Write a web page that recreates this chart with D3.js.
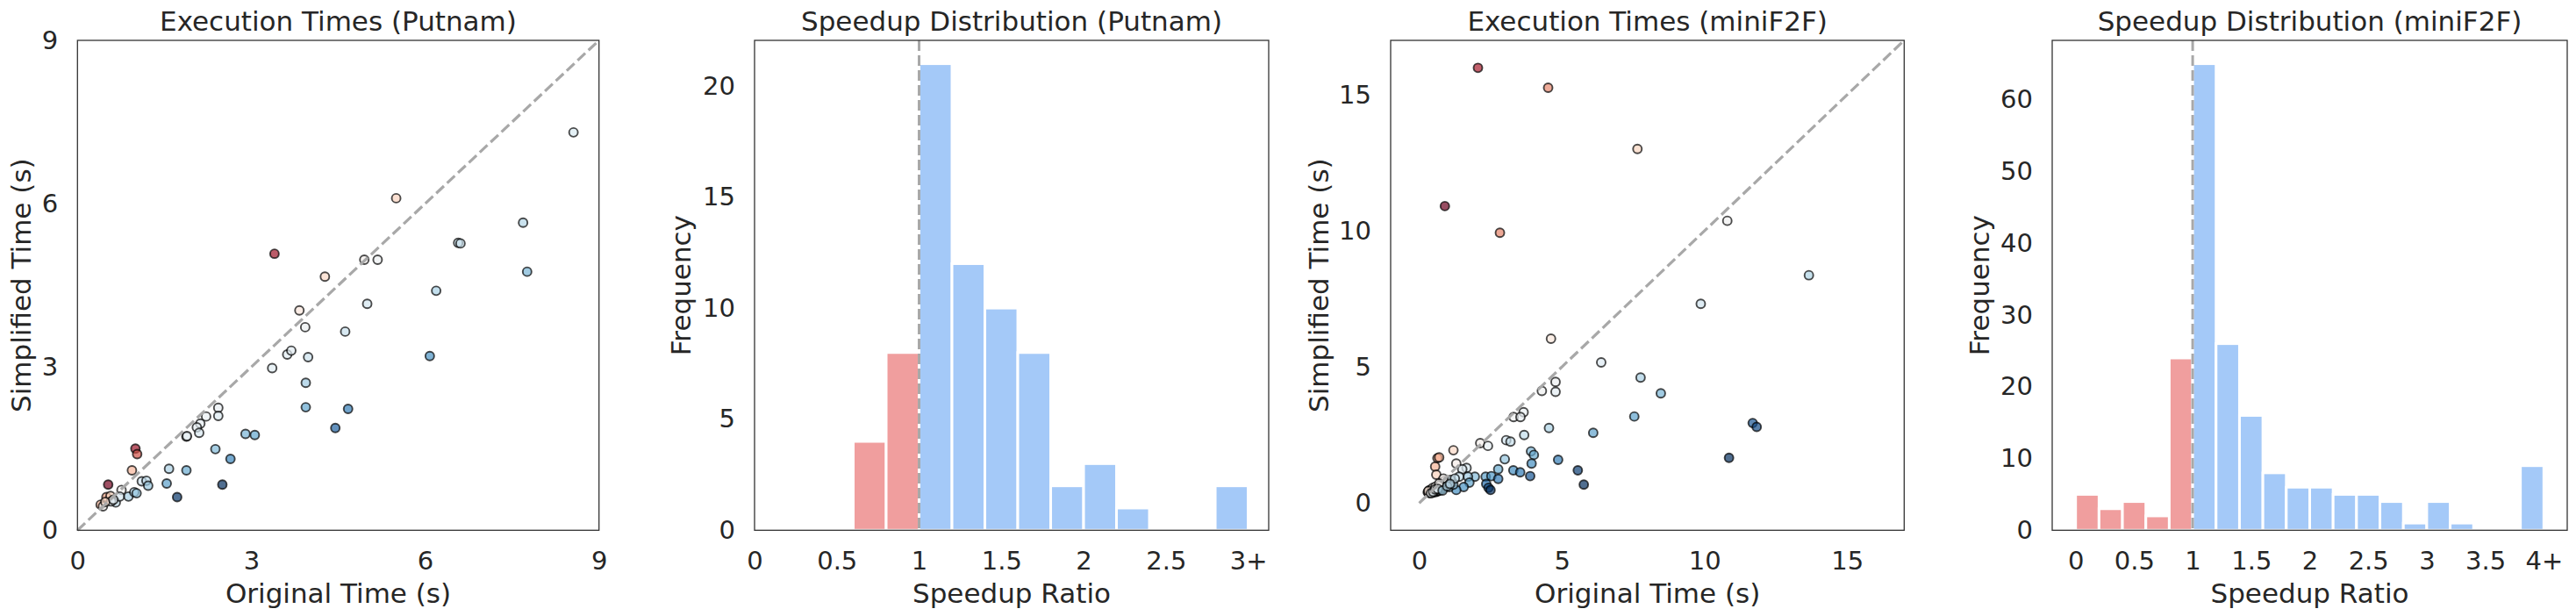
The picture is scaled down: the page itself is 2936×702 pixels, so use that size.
<!DOCTYPE html>
<html>
<head>
<meta charset="utf-8">
<title>Execution Times and Speedup</title>
<script src="https://cdn.jsdelivr.net/npm/d3@7"></script>
<style>
  body { margin: 0; background: #fff; }
</style>
</head>
<body>

<div id="container"></div>

<script>

// Putnam: original vs simplified execution time (s)
const putnamOriginal = [8.56, 5.50, 7.69, 6.57, 6.61, 7.76, 3.40, 4.95, 5.18, 4.27,
    6.19, 5.00, 3.83, 3.93, 4.62, 3.62, 3.69, 3.98, 6.08, 3.36,
    3.94, 2.43, 2.43, 2.22, 2.12, 2.06, 2.10, 1.88, 1.89, 3.94,
    4.67, 4.45, 2.90, 3.06, 2.38, 2.64, 1.58, 1.88, 1.54, 2.50,
    1.72, 1.00, 1.03, 0.94, 0.53, 0.50, 0.57, 0.40, 0.44, 0.76,
    0.66, 0.58, 0.73, 0.88, 0.98, 1.02, 1.11, 1.19, 1.22, 0.48,
    0.62];
const putnamSimplified = [7.31, 6.10, 5.65, 5.28, 5.27, 4.75, 5.08, 4.97, 4.97, 4.66,
    4.40, 4.16, 4.04, 3.73, 3.65, 3.23, 3.30, 3.18, 3.20, 2.98,
    2.71, 2.25, 2.10, 2.09, 1.96, 1.89, 1.79, 1.72, 1.73, 2.26,
    2.23, 1.88, 1.77, 1.75, 1.49, 1.31, 1.13, 1.10, 0.86, 0.84,
    0.61, 1.50, 1.40, 1.10, 0.84, 0.61, 0.63, 0.47, 0.44, 0.74,
    0.51, 0.53, 0.62, 0.62, 0.70, 0.68, 0.90, 0.91, 0.82, 0.52,
    0.56];

// miniF2F: original vs simplified execution time (s)
const minif2fOriginal = [2.06, 4.52, 7.65, 0.90, 2.83, 10.80, 13.66, 9.87, 4.62, 6.38,
    7.76, 8.47, 4.78, 4.78, 4.30, 3.66, 3.31, 3.55, 7.54, 4.55,
    3.68, 6.10, 11.69, 11.83, 3.05, 3.20, 2.14, 2.41, 1.20, 0.64,
    0.56, 0.60, 1.30, 1.66, 1.51, 3.00, 3.92, 4.02, 3.94, 4.87,
    2.77, 3.30, 3.54, 3.89, 5.56, 5.77, 10.86, 1.95, 2.33, 2.53,
    2.77, 2.35, 2.43, 2.50, 1.71, 1.76, 1.40, 1.56, 1.30, 1.15,
    0.89, 1.05, 0.84, 0.70, 0.30, 0.33, 0.36, 0.38, 0.40, 0.42,
    0.45, 0.47, 0.50, 0.52, 0.55, 0.58, 0.60, 0.63, 0.66, 0.70,
    0.72, 0.75, 0.78, 0.35, 0.44, 0.53, 0.62, 0.68, 0.80, 0.90,
    0.95, 1.00, 1.10, 1.20, 1.25, 0.48, 0.57, 0.74, 0.85, 0.70,
    0.32, 0.41, 0.49, 0.56, 0.65, 0.82, 0.98, 1.08];
const minif2fSimplified = [15.99, 15.26, 13.01, 10.91, 9.93, 10.37, 8.37, 7.32, 6.04, 5.17,
    4.61, 4.03, 4.45, 4.09, 4.12, 3.34, 3.16, 3.16, 3.18, 2.76,
    2.50, 2.58, 2.94, 2.80, 2.31, 2.26, 2.20, 2.10, 1.94, 1.65,
    1.34, 1.04, 1.45, 1.29, 1.24, 1.61, 1.90, 1.77, 1.45, 1.59,
    1.24, 1.20, 1.13, 0.99, 1.20, 0.68, 1.66, 0.97, 0.97, 0.99,
    0.89, 0.70, 0.56, 0.48, 0.97, 0.75, 0.97, 0.59, 0.48, 0.75,
    0.81, 0.59, 0.54, 1.68, 0.40, 0.38, 0.42, 0.37, 0.45, 0.40,
    0.43, 0.38, 0.46, 0.41, 0.44, 0.40, 0.48, 0.43, 0.47, 0.45,
    0.52, 0.48, 0.55, 0.47, 0.50, 0.52, 0.55, 0.58, 0.62, 0.66,
    0.72, 0.80, 0.85, 0.68, 0.90, 0.56, 0.60, 0.66, 0.90, 0.72,
    0.44, 0.36, 0.41, 0.50, 0.52, 0.46, 0.62, 0.70];

// Speedup histograms (bin edges + counts, last bin collects everything above)
const putnamBinEdges = [0.6, 0.8, 1.0, 1.2, 1.4, 1.6, 1.8, 2.0, 2.2, 2.4, 2.6, 2.8, 3.0];
const putnamCounts = [4, 8, 21, 12, 10, 8, 2, 3, 1, 0, 0, 2];
const minif2fBinEdges = [0, 0.2, 0.4, 0.6, 0.8, 1.0, 1.2, 1.4, 1.6, 1.8, 2.0,
    2.2, 2.4, 2.6, 2.8, 3.0, 3.2, 3.4, 3.6, 3.8, 4.0];
const minif2fCounts = [5, 3, 4, 2, 24, 65, 26, 16, 8, 6, 6, 5, 5, 4, 1, 4, 1, 0, 0, 9];

// Ticks
const putnamTimeTicks = [0, 3, 6, 9];
const minif2fTimeTicks = [0, 5, 10, 15];
const putnamRatioTicks = [0, 0.5, 1, 1.5, 2, 2.5, 3];
const putnamRatioLabels = ["0", "0.5", "1", "1.5", "2", "2.5", "3+"];
const putnamFreqTicks = [0, 5, 10, 15, 20];
const minif2fRatioTicks = [0, 0.5, 1, 1.5, 2, 2.5, 3, 3.5, 4];
const minif2fRatioLabels = ["0", "0.5", "1", "1.5", "2", "2.5", "3", "3.5", "4+"];
const minif2fFreqTicks = [0, 10, 20, 30, 40, 50, 60];

// Chart dimensions
const width = 2936;
const height = 702;
const marginTop = 46;
const plotHeight = 558.3;
const font = "'DejaVu Sans', sans-serif";
const titleSize = 31;
const labelSize = 31;
const tickSize = 29;
const textColor = "#262626";
const slowColor = "#f09e9e";
const fastColor = "#a4c9f8";
const refColor = "#a8a8a8";

const svg = d3.create("svg")
    .attr("width", width)
    .attr("height", height)
    .attr("font-family", font)
    .style("background", "#fff");

// Cadre d'un sous-graphique : titre, libellés
function frame(left, w, title, xLabel, yLabel, yLabelOffset) {
    const g = svg.append("g").attr("transform", `translate(${left},${marginTop})`);
    g.append("text")
        .attr("x", w / 2)
        .attr("y", 35 - marginTop)
        .attr("text-anchor", "middle")
        .attr("font-size", titleSize)
        .attr("fill", textColor)
        .text(title);
    g.append("text")
        .attr("x", w / 2)
        .attr("y", 687 - marginTop)
        .attr("text-anchor", "middle")
        .attr("font-size", labelSize)
        .attr("fill", textColor)
        .text(xLabel);
    g.append("text")
        .attr("transform", `translate(${-yLabelOffset},${plotHeight / 2}) rotate(-90)`)
        .attr("text-anchor", "middle")
        .attr("font-size", labelSize)
        .attr("fill", textColor)
        .text(yLabel);
    return g;
}

function axes(g, x, y, xTicks, xLabels, yTicks) {
    g.append("g")
        .attr("transform", `translate(0,${plotHeight})`)
        .call(d3.axisBottom(x)
            .tickValues(xTicks)
            .tickFormat(d => xLabels[xTicks.indexOf(d)])
            .tickSize(0)
            .tickPadding(24))
        .call(a => a.select(".domain").remove())
        .attr("font-size", tickSize)
        .attr("font-family", font)
        .style("color", textColor);
    g.append("g")
        .call(d3.axisLeft(y)
            .tickValues(yTicks)
            .tickFormat(d3.format("d"))
            .tickSize(0)
            .tickPadding(22))
        .call(a => a.select(".domain").remove())
        .attr("font-size", tickSize)
        .attr("font-family", font)
        .style("color", textColor);
}

function spines(g, w) {
    g.append("rect")
        .attr("width", w)
        .attr("height", plotHeight)
        .attr("fill", "none")
        .attr("stroke", "#333")
        .attr("stroke-width", 1.3);
}

function scatterPanel(left, w, title, orig, simp, domain, ticks, colorDomain, yLabelOffset) {
    const g = frame(left, w, title, "Original Time (s)", "Simplified Time (s)", yLabelOffset);
    const x = d3.scaleLinear().domain(domain).range([0, w]);
    const y = d3.scaleLinear().domain(domain).range([plotHeight, 0]);
    // couleur selon le ratio original / simplifié
    const color = d3.scaleDivergingLog()
        .domain(colorDomain)
        .interpolator(d3.interpolateRdBu)
        .clamp(true);

    axes(g, x, y, ticks, ticks.map(String), ticks);

    const points = orig.map((o, i) => ({o: o, s: simp[i]}));
    g.selectAll("circle")
        .data(points)
        .enter().append("circle")
        .attr("cx", d => x(d.o))
        .attr("cy", d => y(d.s))
        .attr("r", 5)
        .attr("fill", d => color(d.o / d.s))
        .attr("fill-opacity", 0.7)
        .attr("stroke", "#000")
        .attr("stroke-opacity", 0.7)
        .attr("stroke-width", 1.9);

    const top = domain[1];
    g.append("line")
        .attr("x1", x(0)).attr("y1", y(0))
        .attr("x2", x(top)).attr("y2", y(top))
        .attr("stroke", refColor)
        .attr("stroke-width", 3.2)
        .attr("stroke-dasharray", "12,5");

    spines(g, w);
}

function histPanel(left, w, title, edges, counts, xDomain, yDomain, xTicks, xLabels, yTicks, yLabelOffset) {
    const g = frame(left, w, title, "Speedup Ratio", "Frequency", yLabelOffset);
    const x = d3.scaleLinear().domain(xDomain).range([0, w]);
    const y = d3.scaleLinear().domain(yDomain).range([plotHeight, 0]);

    axes(g, x, y, xTicks, xLabels, yTicks);

    const bins = counts.map((n, i) => ({x0: edges[i], x1: edges[i + 1], n: n}))
        .filter(d => d.n > 0);
    g.selectAll("rect.bar")
        .data(bins)
        .enter().append("rect")
        .attr("class", "bar")
        .attr("x", d => x(d.x0))
        .attr("width", d => x(d.x1) - x(d.x0))
        .attr("y", d => y(d.n))
        .attr("height", d => plotHeight - y(d.n))
        .attr("fill", d => d.x0 < 1 ? slowColor : fastColor)
        .attr("stroke", "#fff")
        .attr("stroke-width", 3);

    g.append("line")
        .attr("x1", x(1)).attr("x2", x(1))
        .attr("y1", 0).attr("y2", plotHeight)
        .attr("stroke", refColor)
        .attr("stroke-width", 3)
        .attr("stroke-dasharray", "12,5");

    spines(g, w);
}

scatterPanel(88.3, 594.4, "Execution Times (Putnam)", putnamOriginal, putnamSimplified,
    [0, 9], putnamTimeTicks, [0.62, 1, 2.9], 53);
histPanel(860, 586, "Speedup Distribution (Putnam)", putnamBinEdges, putnamCounts,
    [0, 3.125], [0, 22.05], putnamRatioTicks, putnamRatioLabels, putnamFreqTicks, 73);
scatterPanel(1585, 585.3, "Execution Times (miniF2F)", minif2fOriginal, minif2fSimplified,
    [-1, 17], minif2fTimeTicks, [0.08, 1, 5], 71);
histPanel(2339, 587, "Speedup Distribution (miniF2F)", minif2fBinEdges, minif2fCounts,
    [-0.2, 4.2], [0, 68.25], minif2fRatioTicks, minif2fRatioLabels, minif2fFreqTicks, 72);

container.append(svg.node());

</script>

</body>
</html>
